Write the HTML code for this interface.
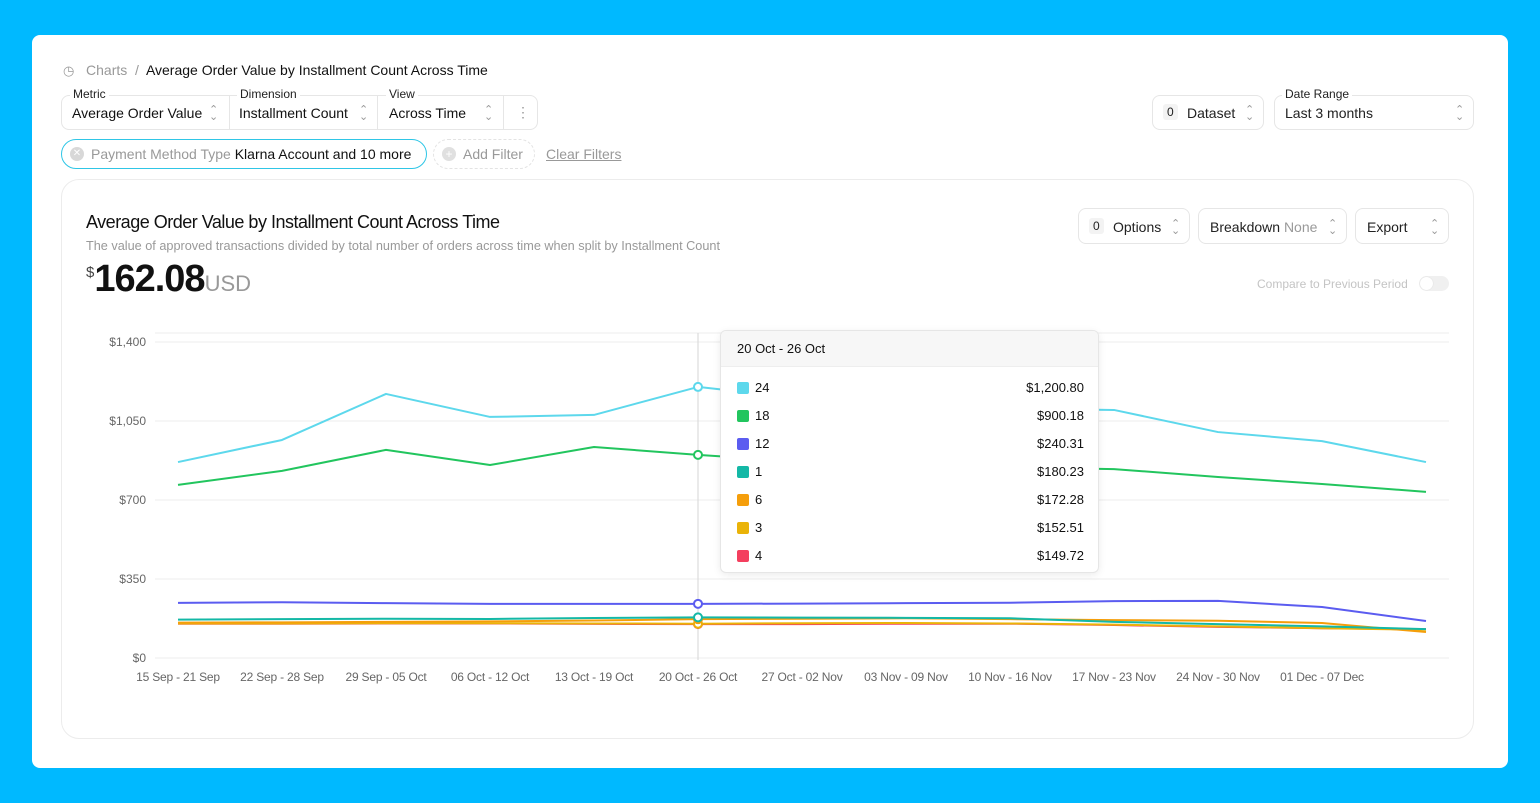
<!DOCTYPE html>
<html><head><meta charset="utf-8"><style>
*{box-sizing:border-box;margin:0;padding:0}
body{width:1540px;height:803px;background:#00b9ff;font-family:"Liberation Sans",sans-serif;position:relative;overflow:hidden;color:#111}
.abs{position:absolute}
.card{left:32px;top:35px;width:1476px;height:733px;background:#fff;border-radius:8px}
.box{position:absolute;border:1px solid #e6e6e6;border-radius:8px;background:#fff;font-size:14px;color:#222}
.lbl{position:absolute;font-size:12px;color:#222;background:#fff;padding:0 3px}
.chev{position:absolute;color:#999;font-size:11px;line-height:7px;text-align:center;width:8px}
.g{color:#999}
</style></head><body>
<div class="abs card"></div>
<div class="abs" style="left:63px;top:62px;font-size:14px"><span class="g" style="font-size:13px">◷</span>&nbsp;&nbsp; <span class="g">Charts</span> <span class="g">&nbsp;/&nbsp;</span> <span style="color:#111">Average Order Value by Installment Count Across Time</span></div>

<div class="box" style="left:61px;top:95px;width:477px;height:35px"></div>
<div class="lbl" style="left:70px;top:87px">Metric</div>
<div class="abs" style="left:72px;top:105px;font-size:14px">Average Order Value</div>
<div class="chev" style="left:209px;top:107px">⌃<br>⌄</div>
<div class="abs" style="left:229px;top:96px;width:1px;height:33px;background:#e6e6e6"></div>
<div class="lbl" style="left:237px;top:87px">Dimension</div>
<div class="abs" style="left:239px;top:105px;font-size:14px">Installment Count</div>
<div class="chev" style="left:359px;top:107px">⌃<br>⌄</div>
<div class="abs" style="left:377px;top:96px;width:1px;height:33px;background:#e6e6e6"></div>
<div class="lbl" style="left:386px;top:87px">View</div>
<div class="abs" style="left:389px;top:105px;font-size:14px">Across Time</div>
<div class="chev" style="left:484px;top:107px">⌃<br>⌄</div>
<div class="abs" style="left:503px;top:96px;width:1px;height:33px;background:#e6e6e6"></div>
<div class="abs g" style="left:516px;top:104px;font-size:14px">⋮</div>

<div class="box" style="left:1152px;top:95px;width:112px;height:35px"><span style="position:absolute;left:10px;top:8px;background:#f3f3f3;border-radius:3px;font-size:12px;padding:1px 4px">0</span><span style="position:absolute;left:34px;top:9px">Dataset</span></div>
<div class="chev" style="left:1245px;top:107px">⌃<br>⌄</div>
<div class="box" style="left:1274px;top:95px;width:200px;height:35px"><span style="position:absolute;left:10px;top:9px">Last 3 months</span></div>
<div class="lbl" style="left:1282px;top:87px">Date Range</div>
<div class="chev" style="left:1455px;top:107px">⌃<br>⌄</div>

<div class="abs" style="left:61px;top:139px;width:366px;height:30px;border:1px solid #2fc6e6;border-radius:15px;font-size:14px"><span style="position:absolute;left:8px;top:7px;width:14px;height:14px;border-radius:50%;background:#d8d8d8;color:#fff;font-size:10px;text-align:center;line-height:14px">✕</span><span style="position:absolute;left:29px;top:6px"><span class="g">Payment Method Type</span> Klarna Account and 10 more</span></div>
<div class="abs" style="left:433px;top:139px;width:102px;height:30px;border:1px dashed #e3e3e3;border-radius:15px;font-size:14px"><span style="position:absolute;left:8px;top:7px;width:14px;height:14px;border-radius:50%;background:#e0e0e0;color:#fff;font-size:12px;text-align:center;line-height:14px">+</span><span class="g" style="position:absolute;left:29px;top:6px">Add Filter</span></div>
<div class="abs g" style="left:546px;top:146px;font-size:14px;text-decoration:underline">Clear Filters</div>

<div class="abs" style="left:61px;top:179px;width:1413px;height:560px;border:1px solid #ececec;border-radius:18px"></div>
<div class="abs" style="left:86px;top:212px;font-size:18px;letter-spacing:-0.5px">Average Order Value by Installment Count Across Time</div>
<div class="abs g" style="left:86px;top:239px;font-size:12.7px">The value of approved transactions divided by total number of orders across time when split by Installment Count</div>
<div class="abs" style="left:86px;top:258px"><span style="font-size:15px;vertical-align:top;position:relative;top:6px;color:#444">$</span><span style="font-size:38px;font-weight:bold;letter-spacing:-1px">162.08</span><span style="font-size:22px;color:#999">USD</span></div>

<div class="box" style="left:1078px;top:208px;width:112px;height:36px"><span style="position:absolute;left:10px;top:9px;background:#f3f3f3;border-radius:3px;font-size:12px;padding:1px 4px">0</span><span style="position:absolute;left:34px;top:10px">Options</span></div>
<div class="chev" style="left:1171px;top:221px">⌃<br>⌄</div>
<div class="box" style="left:1198px;top:208px;width:149px;height:36px"><span style="position:absolute;left:11px;top:10px">Breakdown <span class="g">None</span></span></div>
<div class="chev" style="left:1328px;top:221px">⌃<br>⌄</div>
<div class="box" style="left:1355px;top:208px;width:94px;height:36px"><span style="position:absolute;left:11px;top:10px">Export</span></div>
<div class="chev" style="left:1430px;top:221px">⌃<br>⌄</div>
<div class="abs" style="left:1257px;top:277px;font-size:12px;color:#c4c4c4">Compare to Previous Period</div>
<div class="abs" style="left:1419px;top:276px;width:30px;height:15px;border-radius:8px;background:#f0f0f0"><div style="position:absolute;left:1px;top:1px;width:13px;height:13px;border-radius:50%;background:#fff;box-shadow:0 0 1px #ccc"></div></div>

<svg id="chart" class="abs" style="left:0;top:0" width="1540" height="803"></svg>

<div class="abs" style="left:720px;top:330px;width:379px;height:243px;background:#fff;border:1px solid #e6e6e6;border-radius:6px;box-shadow:0 2px 8px rgba(0,0,0,0.08);overflow:hidden">
<div style="height:36px;background:#f7f7f7;border-bottom:1px solid #eee;font-size:13px;padding:10px 16px">20 Oct - 26 Oct</div>
<div id="tt"></div>
</div>

<script>
const categories=["15 Sep - 21 Sep","22 Sep - 28 Sep","29 Sep - 05 Oct","06 Oct - 12 Oct","13 Oct - 19 Oct","20 Oct - 26 Oct","27 Oct - 02 Nov","03 Nov - 09 Nov","10 Nov - 16 Nov","17 Nov - 23 Nov","24 Nov - 30 Nov","01 Dec - 07 Dec","08 Dec - 14 Dec"];
const yTicks=[0,350,700,1050,1400];
const yTickLabels=["$0","$350","$700","$1,050","$1,400"];
const seriesNames=["24","18","12","1","6","3","4"];
const seriesColors=["#5dd8ec","#22c55e","#5b5cf0","#14b8a6","#f59e0b","#eab308","#f43f5e"];
const s24=[868,966,1170,1068,1077,1201,1150,1120,1105,1099,1001,961,868];
const s18=[767,829,922,855,935,900,870,850,845,837,802,771,736];
const s12=[244,247,243,240,240,240,241,243,245,252,253,226,164];
const s1=[170,172,174,173,177,180,179,178,176,160,150,140,128];
const s6=[157,158,160,162,166,172,174,176,172,168,165,155,115];
const s3=[153,153,154,154,153,152,154,155,153,148,140,132,125];
const s4=[152,152,153,153,151,150,150,152,152,146,138,132,128];
const tooltipValues=["$1,200.80","$900.18","$240.31","$180.23","$172.28","$152.51","$149.72"];
const allSeries=[s24,s18,s12,s1,s6,s3,s4];
const hoverIndex=5;

const NS="http://www.w3.org/2000/svg";
const svg=document.getElementById('chart');
const x0=178,step=104,yBase=658,yTop=342,left=155,right=1449;
const xs=i=>x0+i*step;
const ys=v=>yBase-v/1400*(yBase-yTop);
function mk(t,a){const e=document.createElementNS(NS,t);for(const k in a)e.setAttribute(k,a[k]);svg.appendChild(e);return e;}
const topLine=mk('line',{x1:left,x2:right,y1:333,y2:333,stroke:'#eeeeee'});


yTicks.forEach((t,i)=>{
 const l=mk('line',{x1:left,x2:right,y1:ys(t),y2:ys(t),stroke:'#ececec'});
 
 
 const tx=mk('text',{x:146,y:ys(t)+4,'text-anchor':'end','font-size':12,fill:'#666','font-family':'Liberation Sans, sans-serif'});
 tx.textContent=yTickLabels[i];
 
 
});
categories.slice(0,12).forEach((c,i)=>{
 const tx=mk('text',{x:xs(i),y:681,'text-anchor':'middle','font-size':12,fill:'#666','font-family':'Liberation Sans, sans-serif','letter-spacing':'-0.2'});
 tx.textContent=c;
 
 
});
const hl=mk('line',{x1:xs(hoverIndex),x2:xs(hoverIndex),y1:333,y2:660,stroke:'#d6d6d6'});


for(let s=allSeries.length-1;s>=0;s--){
 const d=allSeries[s].map((v,i)=>(i?'L':'M')+xs(i)+' '+ys(v)).join(' ');
 const p=mk('path',{d:d,fill:'none',stroke:seriesColors[s],'stroke-width':2,'stroke-linejoin':'round'});
 
 
}
for(let s=allSeries.length-1;s>=0;s--){
 const c=mk('circle',{cx:xs(hoverIndex),cy:ys(allSeries[s][hoverIndex]),r:4,fill:'#fff',stroke:seriesColors[s],'stroke-width':2});
 
 
}
const tt=document.getElementById('tt');
seriesNames.forEach((n,i)=>{
 const r=document.createElement('div');
 r.style.cssText='position:absolute;left:0;width:379px;top:'+(49+i*28)+'px;height:16px;font-size:13px';
 r.innerHTML='<span style="position:absolute;left:16px;top:2px;width:12px;height:12px;border-radius:2px;background:'+seriesColors[i]+'"></span><span style="position:absolute;left:34px;top:0">'+n+'</span><span style="position:absolute;right:16px;top:0">'+tooltipValues[i]+'</span>';
 
 
 tt.appendChild(r);
});
</script>
</body></html>
